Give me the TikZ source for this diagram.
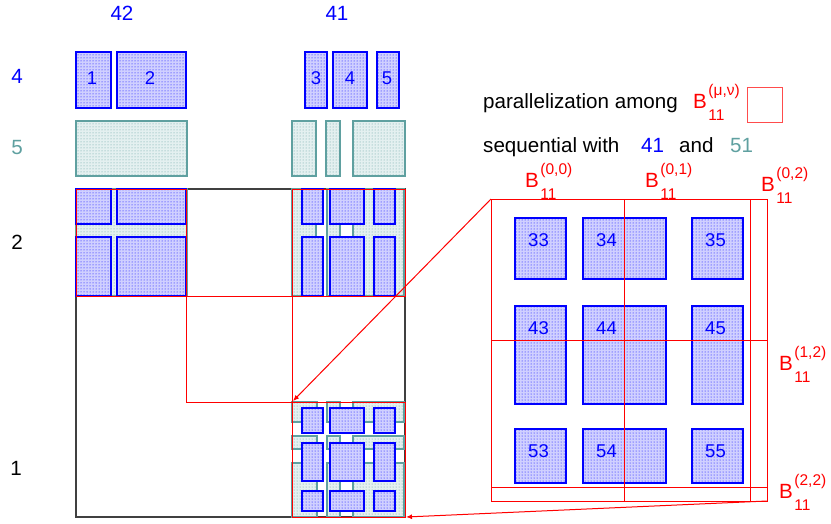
\documentclass[tikz,border=0pt]{standalone}
\usepackage{fontspec}
\setmainfont{Liberation Sans}
\usetikzlibrary{patterns,arrows.meta}
\definecolor{bl}{RGB}{0,0,255}
\definecolor{tl}{RGB}{95,160,160}
\definecolor{blbg}{RGB}{208,208,255}
\definecolor{tlbg}{RGB}{228,240,240}
\newcommand{\Blab}[1]{B\kern1.5pt\rlap{\raisebox{13pt}{\fontsize{15.5}{16}\selectfont(#1)}}\raisebox{-12pt}{\fontsize{15.5}{16}\selectfont 11}}
\begin{document}
\begin{tikzpicture}[x=1pt,y=-1pt,
  bbox/.style={draw=bl,line width=1.6pt,preaction={fill=blbg},pattern=dots,pattern color=bl},
  bboxz/.style={draw=bl,line width=1.3pt,preaction={fill=blbg},pattern=dots,pattern color=bl},
  tbox/.style={draw=tl,line width=1.4pt,preaction={fill=tlbg},pattern=dots,pattern color=tl},
  rline/.style={draw=red,line width=1pt},
  rarrow/.style={draw=red,line width=1pt,-{Latex[length=6pt,width=5pt]}},
  txt/.style={inner sep=0pt,font=\fontsize{20.6}{25}\selectfont},
  lbl/.style={inner sep=0pt,font=\fontsize{18.5}{22}\selectfont,text=bl},
]
\useasboundingbox (0,0) rectangle (831,523);

% column headers and row labels
\node[txt,text=bl] (l42) at (122,13) {42};
\node[txt,text=bl] (l41) at (337,13) {41};
\node[txt,text=bl] (r4) at (17,76) {4};
\node[txt,text=tl] (r5) at (17,148) {5};
\node[txt] (r2) at (17,242) {2};
\node[txt] (r1) at (16,468) {1};

% row 4 blue boxes
\path[bbox] (76,52) rectangle (111,108);
\path[bbox] (117,52) rectangle (186,108);
\path[bbox] (305,52) rectangle (327,108);
\path[bbox] (333,52) rectangle (367,108);
\path[bbox] (377,52) rectangle (399,108);
\node[lbl] (b1) at (92,78) {1};
\node[lbl] (b2) at (150,78) {2};
\node[lbl] (b3) at (316,78) {3};
\node[lbl] (b4) at (350,78) {4};
\node[lbl] (b5) at (387,78) {5};

% row 5 teal boxes
\path[tbox] (76,121) rectangle (187,176);
\path[tbox] (292,121) rectangle (316,176);
\path[tbox] (326,121) rectangle (340,176);
\path[tbox] (353,121) rectangle (405,176);

% big square
\draw[black!75,line width=1.2pt] (76,189) rectangle (405,517);

% top-left tile
\path[tbox] (76,189) rectangle (187,296);
\foreach \xa/\xb in {76/111,117/186}
  \foreach \ya/\yb in {189/224,237/296}
    \path[bbox] (\xa,\ya) rectangle (\xb,\yb);

% top-right tile
\foreach \xa/\xb in {292/316,327/340,353/404}
  \path[tbox] (\xa,189) rectangle (\xb,296);
\foreach \xa/\xb in {302/323,330/364,374/395}
  \foreach \ya/\yb in {189/224,237/296}
    \path[bbox] (\xa,\ya) rectangle (\xb,\yb);

% bottom-right tile
\foreach \xa/\xb in {292/317,327/340,353/404}
  \foreach \ya/\yb in {402/422,436/449,463/517}
    \path[tbox] (\xa,\ya) rectangle (\xb,\yb);
\foreach \xa/\xb in {302/323,330/364,374/395}
  \foreach \ya/\yb in {408/433,443/481,491/511}
    \path[bbox] (\xa,\ya) rectangle (\xb,\yb);

% red outlines of the blocks
\draw[rline] (76,189) rectangle (186,296);
\draw[rline] (292,189) rectangle (405,296);
\draw[rline] (292,402) rectangle (405,517);
\draw[rline] (186,296) rectangle (292,402);

% zoomed block
\foreach \xa/\xb/\c in {515/566/3,583/666/4,692/743/5}
  \foreach \ya/\yb/\r in {218/279/3,306/404/4,429/483/5}
  {
    \path[bboxz] (\xa,\ya) rectangle (\xb,\yb);
    \node[lbl] (n\r\c) at (\xa+23.5,\ya+22.5) {\r\c};
  }
\draw[rline] (491,199) rectangle (767,501);
\draw[rline] (624,199) -- (624,501);
\draw[rline] (750,199) -- (750,501);
\draw[rline] (491,340) -- (767,340);
\draw[rline] (491,487) -- (767,487);

% arrows
\coordinate (zTL) at (491,199);
\coordinate (zBR) at (767,501);
\coordinate (tTL) at (293,401);
\coordinate (tBR) at (406,517);
\draw[rarrow] (zTL) -- (tTL);
\draw[rarrow] (zBR) -- (tBR);

% legend
\node[txt,anchor=base west] (par) at (483,108) {parallelization among};
\node[txt,anchor=base west,text=red] (bmn) at (693,108) {\Blab{μ,ν}};
\node[draw=red!70,line width=0.8pt,minimum width=35pt,minimum height=35pt,inner sep=0pt] (sq) at (764.5,104.5) {};
\node[txt,anchor=base west] (seq) at (483,152) {sequential with};
\node[txt,anchor=base west,text=bl] (s41) at (641,152) {41};
\node[txt,anchor=base west] (sand) at (679,152) {and};
\node[txt,anchor=base west,text=tl] (s51) at (730,152) {51};

% block labels
\node[txt,anchor=base west,text=red] (B00) at (525,187) {\Blab{0,0}};
\node[txt,anchor=base west,text=red] (B01) at (645,187) {\Blab{0,1}};
\node[txt,anchor=base west,text=red] (B02) at (761,191) {\Blab{0,2}};
\node[txt,anchor=base west,text=red] (B12) at (779,370) {\Blab{1,2}};
\node[txt,anchor=base west,text=red] (B22) at (779,498) {\Blab{2,2}};
\end{tikzpicture}
\end{document}
